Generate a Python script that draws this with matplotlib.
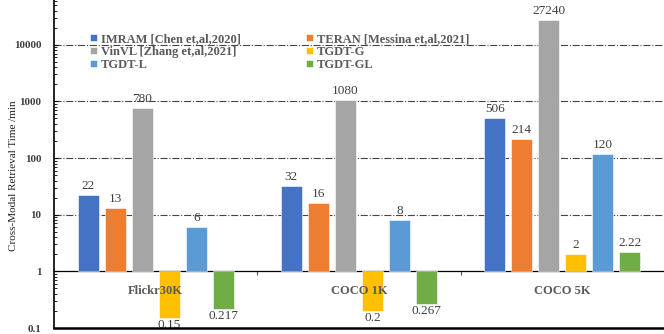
import numpy as np
import matplotlib
matplotlib.use("Agg")
import matplotlib.pyplot as plt
from matplotlib.ticker import LogLocator, NullFormatter, FixedLocator

plt.rcParams["font.family"] = ["Liberation Serif", "DejaVu Serif"]

categories = ["Flickr30K", "COCO 1K", "COCO 5K"]
methods = ["IMRAM [Chen et,al,2020]", "TERAN [Messina et,al,2021]",
           "VinVL [Zhang et,al,2021]", "TGDT-G", "TGDT-L", "TGDT-GL"]
imram = [22, 32, 506]
teran = [13, 16, 214]
vinvl = [780, 1080, 27240]
tgdt_g = [0.15, 0.2, 2]
tgdt_l = [6, 8, 120]
tgdt_gl = [0.217, 0.267, 2.22]
labels = [["22", "32", "506"], ["13", "16", "214"], ["780", "1080", "27240"],
          ["0.15", "0.2", "2"], ["6", "8", "120"], ["0.217", "0.267", "2.22"]]
colors = ["#4472C4", "#ED7D31", "#A5A5A5", "#FFC000", "#5B9BD5", "#70AD47"]

series = [imram, teran, vinvl, tgdt_g, tgdt_l, tgdt_gl]

fig = plt.figure(figsize=(6.64, 3.34), dpi=100)
ax = fig.add_axes([54 / 664, 6 / 334, 610 / 664, 328 / 334])

x = np.arange(len(categories))
pitch = 0.133
width = 0.103
bars = []
for i, (vals, c) in enumerate(zip(series, colors)):
    v = np.array(vals, dtype=float)
    pos = x + (i - 2.5) * pitch
    b = ax.bar(pos, v - 1, bottom=1, width=width, color=c, edgecolor="white",
               linewidth=0.4, label=methods[i], zorder=3)
    bars.append(b)
    for p, val, lab in zip(pos, v, labels[i]):
        if val >= 1:
            ax.annotate(lab, (p, val), xytext=(0, 3), textcoords="offset pixels",
                        ha="center", va="bottom", fontsize=9.5, color="#404040", zorder=5)
        else:
            ax.annotate(lab, (p, val), xytext=(0, -7), textcoords="offset pixels",
                        ha="center", va="center", fontsize=9.5, color="#404040", zorder=5)

ax.set_yscale("log")
ax.set_ylim(0.1, 10 ** 4.79)
ax.set_xlim(-0.5, 2.5)

ax.yaxis.set_major_locator(FixedLocator([0.1, 1, 10, 100, 1000, 10000]))
ax.set_yticklabels(["0.1", "1", "10", "100", "1000", "10000"], fontweight="bold",
                   fontsize=8, color="#404040")
ax.yaxis.set_minor_locator(LogLocator(base=10, subs=np.arange(2, 10) * 1.0, numticks=20))
ax.yaxis.set_minor_formatter(NullFormatter())
ax.tick_params(axis="y", which="major", direction="in", length=3, width=0.8, pad=9)
ax.tick_params(axis="y", which="minor", direction="in", length=2, width=0.6)

for g in [10, 100, 1000, 10000]:
    ax.axhline(g, color="#444444", linestyle="-.", linewidth=0.8, zorder=1)

# axis line at y = 1 with category boundary ticks
ax.spines["bottom"].set_position(("data", 1))
ax.spines["bottom"].set_linewidth(0.9)
ax.spines["top"].set_visible(False)
ax.spines["right"].set_visible(False)
ax.spines["left"].set_linewidth(1.2)
ax.set_xticks([0.5, 1.5])
ax.set_xticklabels(["", ""])
ax.tick_params(axis="x", direction="out", length=3, width=0.8, color="#555555")
ax.axhline(0.1, color="black", linewidth=1.8, clip_on=False, zorder=6)

for xi, cat in zip(x, categories):
    ax.text(xi, 0.45, cat, ha="center", va="center", fontsize=9, fontweight="bold",
            color="#595959", zorder=6)

ax.set_ylabel("Cross-Modal Retrieval Time /min", fontsize=8, color="#222222")
ax.yaxis.set_label_coords(-36 / 610, 0.465)

order = [0, 2, 4, 1, 3, 5]
leg = ax.legend([bars[i] for i in order], [methods[i] for i in order], ncol=2,
                loc="upper left", bbox_to_anchor=(0.05, 0.915), frameon=False,
                prop={"weight": "bold", "size": 9}, handlelength=0.6, handleheight=0.6,
                handletextpad=0.3, labelspacing=0.08, columnspacing=5.2, borderaxespad=0)
for t in leg.get_texts():
    t.set_color("#595959")

fig.savefig("out.png", dpi=100)
